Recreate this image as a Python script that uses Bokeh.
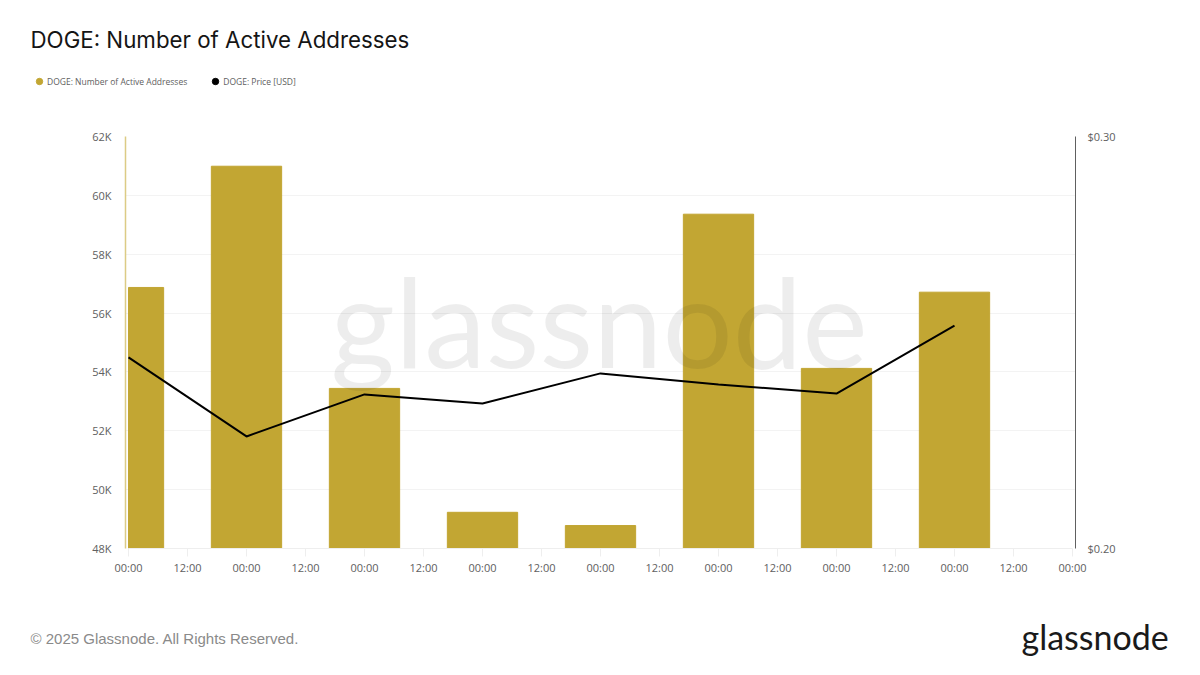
from bokeh.embed import file_html
from bokeh.layouts import column, row
from bokeh.models import (ColumnDataSource, DatetimeTickFormatter, FixedTicker, Label, Legend, LegendItem,
                          LinearAxis, NumeralTickFormatter, Range1d)
from bokeh.plotting import figure
from bokeh.resources import INLINE
import pandas as pd

# the axis only shows times of day, so the calendar dates are placeholders
days = ["2025-01-01", "2025-01-02", "2025-01-03", "2025-01-04",
        "2025-01-05", "2025-01-06", "2025-01-07", "2025-01-08"]
active_addresses = [56870, 60990, 53440, 49230, 48780, 59360, 54120, 56710]
price = [0.2464, 0.2272, 0.2374, 0.2352, 0.2425, 0.2398, 0.2376, 0.2541]
y_ticks = [48000, 50000, 52000, 54000, 56000, 58000, 60000, 62000]
y_labels = ["48K", "50K", "52K", "54K", "56K", "58K", "60K", "62K"]
price_ticks = [0.20, 0.30]

GOLD = "#C2A633"
GREY = "#606060"
FONT = "Open Sans"


def text_strip(height):
    # faixa sem eixos, so para os textos fora do grafico
    f = figure(width=1184, height=height, output_backend="svg", toolbar_location=None,
               x_range=Range1d(0, 1184), y_range=Range1d(0, height),
               min_border_left=0, min_border_right=0, min_border_top=0, min_border_bottom=0)
    f.axis.visible = False
    f.grid.visible = False
    f.outline_line_color = None
    return f


x = pd.to_datetime(days)
start = x[0]
end = x[-1] + pd.Timedelta(days=1)
bar_half = pd.Timedelta(hours=7.15)
pad = pd.Timedelta(hours=0.61)

# the first bar is cut where the time window begins
bar_left = [max(d - bar_half, start) for d in x]
bar_right = [d + bar_half for d in x]
source = ColumnDataSource(data=dict(day=x, left=bar_left, right=bar_right, active=active_addresses, price=price))

x_ticks = []
t = start
while t <= end:
    x_ticks.append((t - pd.Timestamp(0)) / pd.Timedelta(milliseconds=1))
    t = t + pd.Timedelta(hours=12)

# cabecalho
header = text_strip(108)
header.add_layout(Label(x=30, y=39, x_units="canvas", y_units="canvas", text="DOGE: Number of Active Addresses",
                        text_font="Inter", text_font_size="22.3px", text_color="#151515",
                        text_baseline="alphabetic"))
dot_gold = header.scatter([float("nan")], [float("nan")], marker="circle", size=7, color=GOLD)
dot_black = header.scatter([float("nan")], [float("nan")], marker="circle", size=7, color="black")
legend = Legend(items=[LegendItem(label="DOGE: Number of Active Addresses", renderers=[dot_gold]),
                       LegendItem(label="DOGE: Price [USD]", renderers=[dot_black])],
                orientation="horizontal", location=(31, 19), border_line_color=None,
                background_fill_alpha=0, glyph_width=16, glyph_height=16, label_standoff=-4, spacing=20,
                padding=0, margin=0, label_text_font=FONT, label_text_font_size="8.5px",
                label_text_color=GREY, label_height=10)
header.add_layout(legend)

# grafico principal
p = figure(width=1184, height=492, x_axis_type="datetime", output_backend="svg", toolbar_location=None,
           x_range=Range1d(start - pad, end + pad), y_range=Range1d(48000, 62000),
           min_border_left=125, min_border_right=109, min_border_top=28, min_border_bottom=52)
p.outline_line_color = None
p.xgrid.visible = False
p.ygrid.grid_line_color = "#F3F3F3"
p.ygrid.ticker = FixedTicker(ticks=y_ticks)
p.ygrid.bounds = (x_ticks[0], x_ticks[-1])

p.quad(left="left", right="right", top="active", bottom=48000, color=GOLD, source=source)
p.extra_y_ranges = {"price": Range1d(0.20, 0.30)}
p.line("day", "price", y_range_name="price", line_color="black", line_width=2, level="overlay", source=source)

p.xaxis.ticker = FixedTicker(ticks=x_ticks)
p.xaxis.bounds = (x_ticks[0], x_ticks[-1])
p.xaxis.formatter = DatetimeTickFormatter(hours="%H:%M", days="%H:%M", hourmin="%H:%M", minutes="%H:%M",
                                          minsec="%H:%M", months="%H:%M", years="%H:%M", context=None)
p.xaxis.axis_line_color = "#EEEEEE"
p.xaxis.major_tick_line_color = "#EEEEEE"
p.xaxis.major_tick_in = 0
p.xaxis.major_tick_out = 8
p.xaxis.minor_tick_line_color = None
p.xaxis.major_label_standoff = 3
p.xaxis.major_label_text_font = FONT
p.xaxis.major_label_text_font_size = "11px"
p.xaxis.major_label_text_color = GREY

p.yaxis.ticker = FixedTicker(ticks=y_ticks)
p.yaxis.major_label_overrides = dict(zip(y_ticks, y_labels))
p.yaxis.axis_line_color = "#DCCB85"
p.yaxis.axis_line_width = 1.5
p.yaxis.major_tick_line_color = None
p.yaxis.minor_tick_line_color = None
p.yaxis.major_label_standoff = 8
p.yaxis.major_label_text_font = FONT
p.yaxis.major_label_text_font_size = "11px"
p.yaxis.major_label_text_color = GREY

right_axis = LinearAxis(y_range_name="price", ticker=FixedTicker(ticks=price_ticks),
                        formatter=NumeralTickFormatter(format="$0.00"))
right_axis.axis_line_color = GREY
right_axis.major_tick_line_color = None
right_axis.minor_tick_line_color = None
right_axis.major_label_standoff = 6
right_axis.major_label_text_font = FONT
right_axis.major_label_text_font_size = "11px"
right_axis.major_label_text_color = GREY
p.add_layout(right_axis, "right")

# marca d'agua
p.add_layout(Label(x=330, y=211, x_units="canvas", y_units="canvas", text="glassnode",
                   text_font="Lato", text_font_size="124px", text_color="black", text_alpha=0.07,
                   text_baseline="alphabetic"))

# rodape
footer = text_strip(59)
footer.add_layout(Label(x=30, y=38, x_units="canvas", y_units="canvas", text="© 2025 Glassnode. All Rights Reserved.",
                        text_font="Liberation Sans", text_font_size="15px", text_color="#8A8A8A",
                        text_baseline="alphabetic"))
footer.add_layout(Label(x=1021, y=36, x_units="canvas", y_units="canvas", text="glassnode",
                        text_font="Lato", text_font_size="34px", text_color="#1A1A1A",
                        text_baseline="alphabetic"))

layout = column(row(header), p, row(footer), spacing=0)
open("out.html", "w").write(file_html(layout, INLINE))
